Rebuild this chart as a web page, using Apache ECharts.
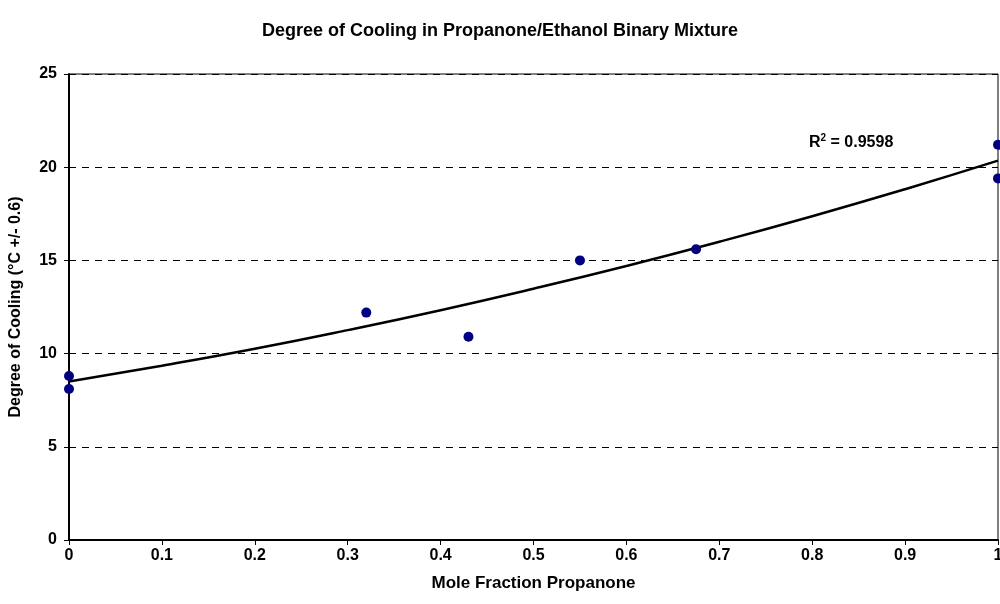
<!DOCTYPE html>
<html>
<head>
<meta charset="utf-8">
<script src="https://cdn.jsdelivr.net/npm/echarts@6/dist/echarts.min.js"></script>
<style>
  html, body { margin: 0; padding: 0; background: #fff; }
  #chart { width: 1000px; height: 604px; }
</style>
</head>
<body>
<div id="chart"></div>
<script>
// measured points (mole fraction, degree of cooling)
var moleFraction = [0, 0, 0.32, 0.43, 0.55, 0.675, 1, 1];
var cooling = [8.8, 8.1, 12.2, 10.9, 15.0, 15.6, 21.2, 19.4];

// trend line
var trendX = [0, 0.1, 0.2, 0.3, 0.4, 0.5, 0.6, 0.7, 0.8, 0.9, 1];
var trendY = [8.5, 9.35, 10.26, 11.26, 12.33, 13.48, 14.7, 16.0, 17.37, 18.82, 20.35];

var rSquared = '0.9598';

var font = 'Arial, "Liberation Sans", sans-serif';

var chart = echarts.init(document.getElementById('chart'));

var points = moleFraction.map(function (x, i) { return [x, cooling[i]]; });
var trend = trendX.map(function (x, i) { return [x, trendY[i]]; });

chart.setOption({
  animation: false,
  backgroundColor: '#fff',
  title: [{
    text: 'Degree of Cooling in Propanone/Ethanol Binary Mixture',
    left: 'center',
    top: 17,
    textStyle: { fontFamily: font, fontSize: 18, fontWeight: 'bold', color: '#000' }
  }, {
    text: '{r|R}{sup|2}{r| = ' + rSquared + '}',
    left: 804,
    top: 128,
    textStyle: {
      rich: {
        r: { fontFamily: font, fontSize: 16, fontWeight: 'bold', color: '#000', verticalAlign: 'bottom' },
        sup: { fontFamily: font, fontSize: 10, fontWeight: 'bold', color: '#000', verticalAlign: 'top', padding: [0, 0, 8, 0] }
      }
    }
  }],
  grid: {
    left: 69, right: 2, top: 74, bottom: 64,
    outerBoundsMode: 'none',
    show: true, borderColor: '#000', borderWidth: 1
  },
  xAxis: {
    type: 'value',
    min: 0, max: 1, interval: 0.1,
    name: 'Mole Fraction Propanone',
    nameLocation: 'middle',
    nameGap: 35,
    nameTextStyle: { fontFamily: font, fontSize: 17, fontWeight: 'bold', color: '#000' },
    axisLine: { onZero: false, lineStyle: { color: '#000', width: 2 } },
    axisTick: { show: true, length: 5, lineStyle: { color: '#000' } },
    axisLabel: { fontFamily: font, fontSize: 16, fontWeight: 'bold', color: '#000', margin: 8,
      formatter: function (v) { return String(Math.round(v * 10) / 10); } },
    splitLine: { show: false }
  },
  yAxis: {
    type: 'value',
    min: 0, max: 25, interval: 5,
    name: 'Degree of Cooling (°C +/- 0.6)',
    nameLocation: 'middle',
    nameGap: 45,
    nameTextStyle: { fontFamily: font, fontSize: 16, fontWeight: 'bold', color: '#000' },
    axisLine: { show: true, lineStyle: { color: '#000', width: 2 } },
    axisTick: { show: true, length: 5, lineStyle: { color: '#000' } },
    axisLabel: { fontFamily: font, fontSize: 16, fontWeight: 'bold', color: '#000', margin: 12 },
    splitLine: { show: true, lineStyle: { color: '#000', type: [7, 6], width: 1 } }
  },
  series: [{
    type: 'line',
    data: trend,
    smooth: true,
    symbol: 'none',
    lineStyle: { color: '#000', width: 2.5 },
    z: 2
  }, {
    type: 'scatter',
    data: points,
    symbolSize: 10,
    itemStyle: { color: '#000080', opacity: 1 },
    z: 3
  }]
});
</script>
</body>
</html>
